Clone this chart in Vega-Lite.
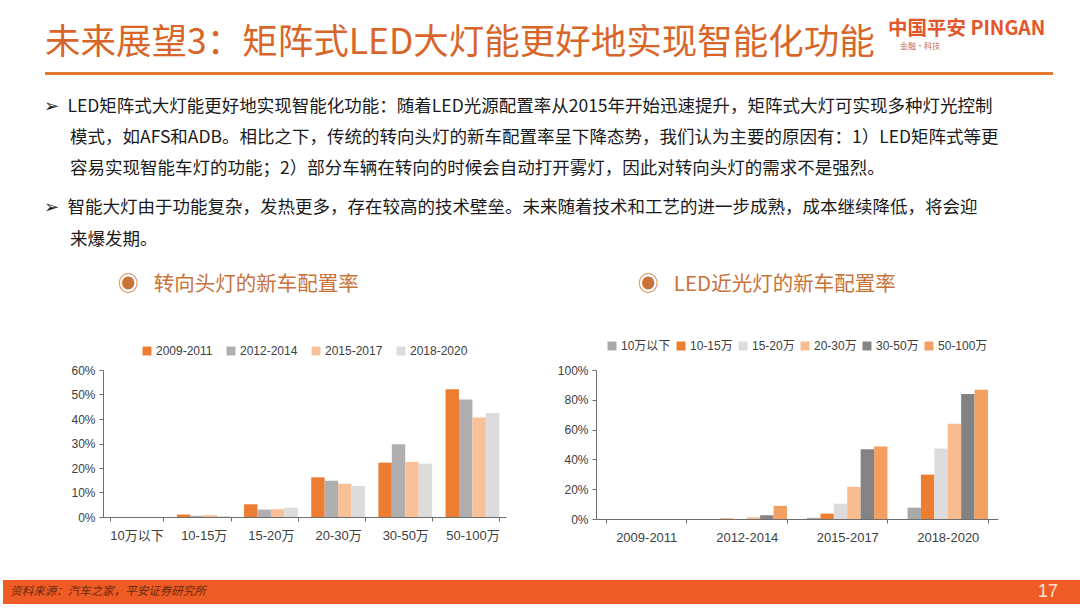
{
  "$schema": "https://vega.github.io/schema/vega-lite/v6.json",
  "background": "white",
  "padding": {"top": 19, "left": 0, "right": 0, "bottom": 4},
  "spacing": 20,
  "resolve": {"scale": {"color": "independent", "x": "independent", "xOffset": "independent", "y": "independent"}, "legend": {"color": "independent"}},
  "config": {
    "view": {"stroke": null},
    "font": "Noto Sans CJK SC",
    "title": {"fontWeight": "normal"},
    "axis": {
      "labelFont": "Liberation Sans, Noto Sans CJK SC",
      "labelColor": "#404040",
      "labelFontSize": 12,
      "domainColor": "#6E6E6E",
      "tickColor": "#6E6E6E",
      "grid": false,
      "title": null
    },
    "legend": {
      "labelFont": "Liberation Sans, Noto Sans CJK SC",
      "labelColor": "#404040",
      "labelFontSize": 12,
      "symbolType": "square",
      "symbolSize": 80,
      "symbolStrokeWidth": 0,
      "labelOffset": 3,
      "title": null,
      "layout": {"top": {"anchor": "middle"}}
    }
  },
  "vconcat": [
    {
      "spacing": 0,
      "hconcat": [
        {"width": 42, "height": 3, "data": {"values": [{}]}, "mark": {"type": "point", "opacity": 0}},
        {
          "width": 843, "height": 3,
          "view": {"fill": "#E2792F"},
          "data": {"values": [{}]},
          "mark": {"type": "point", "opacity": 0},
          "title": {"text": "未来展望3：矩阵式LED大灯能更好地实现智能化功能", "anchor": "start", "frame": "group", "fontSize": 35.5, "color": "#D8662A", "offset": 9}
        },
        {
          "width": 165, "height": 3,
          "view": {"fill": "#E2792F"},
          "data": {"values": [{}]},
          "mark": {"type": "point", "opacity": 0},
          "title": {"text": "中国平安 PINGAN", "subtitle": "\u200b\u2002\u2002\u2002金融·科技", "anchor": "start", "frame": "group", "fontSize": 19.5, "fontWeight": "bold", "color": "#E4572A", "subtitleFontSize": 8, "subtitleColor": "#C86A50", "subtitlePadding": 3, "offset": 19}
        }
      ]
    },
    {
      "title": {
        "text": [
          "➢\u2002LED矩阵式大灯能更好地实现智能化功能：随着LED光源配置率从2015年开始迅速提升，矩阵式大灯可实现多种灯光控制",
          "\u200b\u3000\u2002模式，如AFS和ADB。相比之下，传统的转向头灯的新车配置率呈下降态势，我们认为主要的原因有：1）LED矩阵式等更",
          "\u200b\u3000\u2002容易实现智能车灯的功能；2）部分车辆在转向的时候会自动打开雾灯，因此对转向头灯的需求不是强烈。"
        ],
        "subtitle": [
          "➢\u2002智能大灯由于功能复杂，发热更多，存在较高的技术壁垒。未来随着技术和工艺的进一步成熟，成本继续降低，将会迎",
          "\u200b\u3000\u2002来爆发期。"
        ],
        "anchor": "start",
        "dx": 43,
        "fontSize": 17.5,
        "lineHeight": 31,
        "color": "#1A1A1A",
        "subtitleFontSize": 17.5,
        "subtitleLineHeight": 32,
        "subtitleColor": "#1A1A1A",
        "subtitlePadding": 22,
        "offset": 26
      },
      "spacing": 50,
      "resolve": {"scale": {"color": "independent", "x": "independent", "xOffset": "independent", "y": "independent"}, "legend": {"color": "independent"}},
      "hconcat": [
        {"width": 1, "height": 1, "data": {"values": [{}]}, "mark": {"type": "point", "opacity": 0}},
        {
          "width": 403,
          "height": 147,
          "title": {"text": "◉\u2002\u2005转向头灯的新车配置率", "anchor": "start", "frame": "group", "dx": 15, "fontSize": 20.5, "color": "#C8733A", "offset": 50},
          "data": {
            "values": [
              {"price": "10万以下", "period": "2009-2011", "value": 0},
              {"price": "10万以下", "period": "2012-2014", "value": 0},
              {"price": "10万以下", "period": "2015-2017", "value": 0},
              {"price": "10万以下", "period": "2018-2020", "value": 0},
              {"price": "10-15万", "period": "2009-2011", "value": 0.010},
              {"price": "10-15万", "period": "2012-2014", "value": 0.005},
              {"price": "10-15万", "period": "2015-2017", "value": 0.008},
              {"price": "10-15万", "period": "2018-2020", "value": 0.004},
              {"price": "15-20万", "period": "2009-2011", "value": 0.052},
              {"price": "15-20万", "period": "2012-2014", "value": 0.030},
              {"price": "15-20万", "period": "2015-2017", "value": 0.032},
              {"price": "15-20万", "period": "2018-2020", "value": 0.038},
              {"price": "20-30万", "period": "2009-2011", "value": 0.162},
              {"price": "20-30万", "period": "2012-2014", "value": 0.148},
              {"price": "20-30万", "period": "2015-2017", "value": 0.136},
              {"price": "20-30万", "period": "2018-2020", "value": 0.127},
              {"price": "30-50万", "period": "2009-2011", "value": 0.222},
              {"price": "30-50万", "period": "2012-2014", "value": 0.297},
              {"price": "30-50万", "period": "2015-2017", "value": 0.225},
              {"price": "30-50万", "period": "2018-2020", "value": 0.218},
              {"price": "50-100万", "period": "2009-2011", "value": 0.521},
              {"price": "50-100万", "period": "2012-2014", "value": 0.480},
              {"price": "50-100万", "period": "2015-2017", "value": 0.406},
              {"price": "50-100万", "period": "2018-2020", "value": 0.425}
            ]
          },
          "mark": {"type": "bar"},
          "encoding": {
            "x": {
              "field": "price", "type": "nominal",
              "sort": ["10万以下", "10-15万", "15-20万", "20-30万", "30-50万", "50-100万"],
              "scale": {"paddingInner": 0.2, "paddingOuter": 0.1},
              "axis": {"labelAngle": 0, "tickBand": "extent", "tickSize": 4, "labelFontSize": 13, "labelPadding": 8, "minExtent": 43, "maxExtent": 43}
            },
            "xOffset": {
              "field": "period", "type": "nominal",
              "sort": ["2009-2011", "2012-2014", "2015-2017", "2018-2020"],
              "scale": {"paddingInner": 0}
            },
            "y": {
              "field": "value", "type": "quantitative",
              "scale": {"domain": [0, 0.6], "nice": false},
              "axis": {"format": ".0%", "values": [0, 0.1, 0.2, 0.3, 0.4, 0.5, 0.6], "tickSize": 4, "labelPadding": 4, "minExtent": 46, "maxExtent": 46}
            },
            "color": {
              "field": "period", "type": "nominal",
              "scale": {"domain": ["2009-2011", "2012-2014", "2015-2017", "2018-2020"], "range": ["#ED7D31", "#AFAFAF", "#F8C19A", "#DCDCDC"]},
              "legend": {"orient": "top", "columnPadding": 12, "offset": 13}
            }
          }
        },
        {
          "width": 402,
          "height": 149,
          "title": {"text": "◉\u2002\u2005LED近光灯的新车配置率", "anchor": "start", "frame": "group", "dx": 42, "fontSize": 20.5, "color": "#C8733A", "offset": 45},
          "data": {
            "values": [
              {"period": "2009-2011", "price": "10万以下", "value": 0},
              {"period": "2009-2011", "price": "10-15万", "value": 0},
              {"period": "2009-2011", "price": "15-20万", "value": 0},
              {"period": "2009-2011", "price": "20-30万", "value": 0},
              {"period": "2009-2011", "price": "30-50万", "value": 0},
              {"period": "2009-2011", "price": "50-100万", "value": 0},
              {"period": "2012-2014", "price": "10万以下", "value": 0},
              {"period": "2012-2014", "price": "10-15万", "value": 0.004},
              {"period": "2012-2014", "price": "15-20万", "value": 0},
              {"period": "2012-2014", "price": "20-30万", "value": 0.011},
              {"period": "2012-2014", "price": "30-50万", "value": 0.025},
              {"period": "2012-2014", "price": "50-100万", "value": 0.088},
              {"period": "2015-2017", "price": "10万以下", "value": 0.008},
              {"period": "2015-2017", "price": "10-15万", "value": 0.036},
              {"period": "2015-2017", "price": "15-20万", "value": 0.103},
              {"period": "2015-2017", "price": "20-30万", "value": 0.216},
              {"period": "2015-2017", "price": "30-50万", "value": 0.468},
              {"period": "2015-2017", "price": "50-100万", "value": 0.486},
              {"period": "2018-2020", "price": "10万以下", "value": 0.076},
              {"period": "2018-2020", "price": "10-15万", "value": 0.298},
              {"period": "2018-2020", "price": "15-20万", "value": 0.473},
              {"period": "2018-2020", "price": "20-30万", "value": 0.640},
              {"period": "2018-2020", "price": "30-50万", "value": 0.839},
              {"period": "2018-2020", "price": "50-100万", "value": 0.867}
            ]
          },
          "mark": {"type": "bar"},
          "encoding": {
            "x": {
              "field": "period", "type": "nominal",
              "sort": ["2009-2011", "2012-2014", "2015-2017", "2018-2020"],
              "scale": {"paddingInner": 0.2, "paddingOuter": 0.1},
              "axis": {"labelAngle": 0, "tickBand": "extent", "tickSize": 4, "labelFontSize": 13, "labelPadding": 8, "minExtent": 41, "maxExtent": 41}
            },
            "xOffset": {
              "field": "price", "type": "nominal",
              "sort": ["10万以下", "10-15万", "15-20万", "20-30万", "30-50万", "50-100万"],
              "scale": {"paddingInner": 0}
            },
            "y": {
              "field": "value", "type": "quantitative",
              "scale": {"domain": [0, 1], "nice": false},
              "axis": {"format": ".0%", "values": [0, 0.2, 0.4, 0.6, 0.8, 1], "tickSize": 4, "labelPadding": 4, "minExtent": 40, "maxExtent": 40}
            },
            "color": {
              "field": "price", "type": "nominal",
              "scale": {"domain": ["10万以下", "10-15万", "15-20万", "20-30万", "30-50万", "50-100万"], "range": ["#A9A9A9", "#ED7D31", "#DCDCDC", "#F8BC8E", "#838383", "#F2A062"]},
              "legend": {"orient": "top", "columnPadding": 4, "offset": 18}
            }
          }
        }
      ]
    },
    {
      "spacing": 0,
      "hconcat": [
        {
          "width": 210, "height": 24,
          "view": {"fill": "#EF5B24"},
          "data": {"values": [{"t": "资料来源：汽车之家，平安证券研究所"}]},
          "mark": {"type": "text", "fontSize": 11.5, "fontStyle": "italic", "color": "#6B2A10"},
          "encoding": {"text": {"field": "t"}}
        },
        {
          "width": 800, "height": 24,
          "view": {"fill": "#EF5B24"},
          "data": {"values": [{}]},
          "mark": {"type": "point", "opacity": 0}
        },
        {
          "width": 70, "height": 24,
          "view": {"fill": "#EF5B24"},
          "data": {"values": [{"t": "17"}]},
          "mark": {"type": "text", "fontSize": 18, "font": "Liberation Sans", "color": "#FBE3D3"},
          "encoding": {"text": {"field": "t"}}
        }
      ]
    }
  ]
}
